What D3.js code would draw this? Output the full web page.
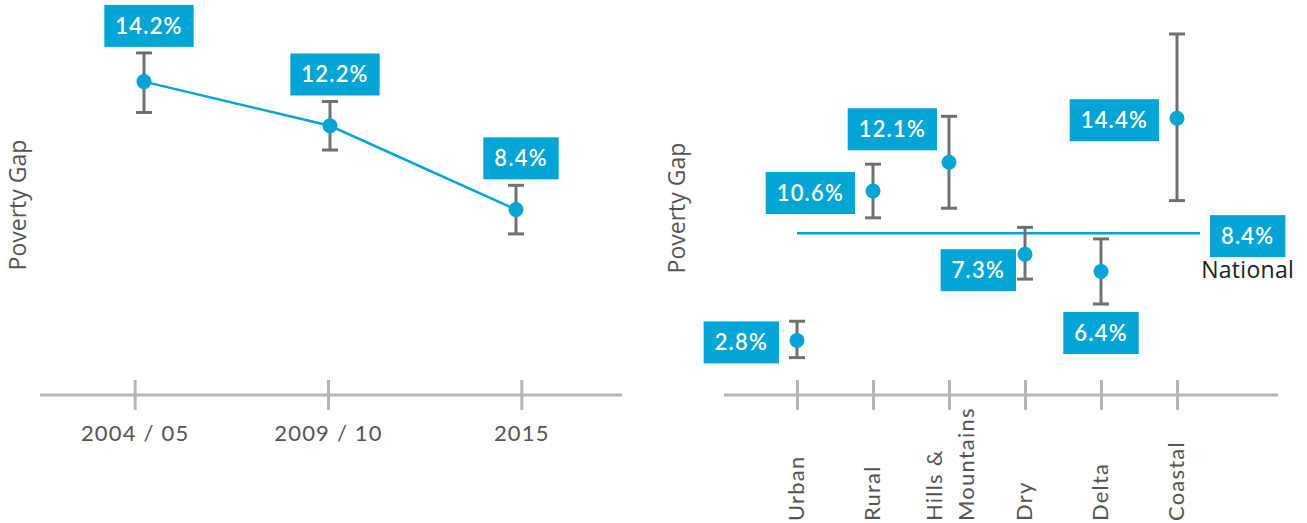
<!DOCTYPE html>
<html>
<head>
<meta charset="utf-8">
<script src="https://cdn.jsdelivr.net/npm/d3@7"></script>
<style>
  html, body { margin: 0; padding: 0; background: #fff; }
  svg { display: block; }
</style>
</head>
<body>
<svg id="chart" width="1307" height="523"></svg>
<script>
// ---------- data ----------
const years = ["2004 / 05", "2009 / 10", "2015"];
const yearValues = [14.2, 12.2, 8.4];
const yearLow = [12.8, 11.1, 7.3];
const yearHigh = [15.5, 13.3, 9.5];

const regions = ["Urban", "Rural", "Hills & Mountains", "Dry", "Delta", "Coastal"];
const regionValues = [2.8, 10.6, 12.1, 7.3, 6.4, 14.4];
const regionLow = [1.9, 9.2, 9.7, 6.0, 4.7, 10.1];
const regionHigh = [3.8, 12.0, 14.5, 8.7, 8.1, 18.8];
const regionLabelPlacement = ["left", "left", "aboveLeft", "belowLeft", "below", "left"];

const nationalValue = 8.4;
const nationalLabel = "National";
const yAxisTitle = "Poverty Gap";

// ---------- style ----------
const BLUE = "#00a5d5";
const GREY = "#707070";
const AXIS = "#b5b5b5";
const TEXT = "#555";
const LABEL_FONT = "Lato, 'Open Sans', sans-serif";
const fmt = v => v.toFixed(1) + "%";

const svg = d3.select("#chart");

function labelBox(g, text, cx, cy) {
  const grp = g.append("g");
  const rect = grp.append("rect").attr("fill", BLUE);
  const t = grp.append("text")
    .attr("x", cx).attr("y", cy)
    .attr("dy", "0.36em")
    .attr("text-anchor", "middle")
    .attr("fill", "#fff")
    .style("font-family", LABEL_FONT)
    .style("font-size", "22px")
    .style("font-weight", 600)
    .style("letter-spacing", "1.2px")
    .text(text);
  const w = t.node().getComputedTextLength() + 22;
  const h = 42;
  rect.attr("x", cx - w / 2).attr("y", cy - h / 2).attr("width", w).attr("height", h);
  return w;
}

function errorBar(g, x, y1, y2) {
  g.append("line").attr("x1", x).attr("x2", x).attr("y1", y1).attr("y2", y2)
    .attr("stroke", GREY).attr("stroke-width", 3);
  [y1, y2].forEach(y => g.append("line")
    .attr("x1", x - 8).attr("x2", x + 8).attr("y1", y).attr("y2", y)
    .attr("stroke", GREY).attr("stroke-width", 3));
}

// ---------- left chart ----------
const left = svg.append("g");
const xL = d3.scalePoint().domain(years).range([38, 618]).padding(0.5);
const xLDot = d3.scalePoint().domain(years).range([144, 516]);
const yL = d3.scaleLinear().domain([0, 16]).range([395, 395 - 16 * 22.07]);

left.append("line").attr("x1", 40).attr("x2", 622).attr("y1", 395).attr("y2", 395)
  .attr("stroke", AXIS).attr("stroke-width", 3);

const axL = left.append("g").attr("transform", "translate(0,395)")
  .call(d3.axisBottom(xL).tickSize(15).tickPadding(15));
axL.select(".domain").remove();
axL.selectAll(".tick line").attr("y1", -15).attr("y2", 15).attr("stroke", AXIS).attr("stroke-width", 3);
axL.selectAll(".tick text").attr("fill", TEXT)
  .style("font-family", LABEL_FONT).style("font-size", "22px").style("font-weight", 400)
  .style("letter-spacing", "1.2px");

left.append("text")
  .attr("transform", "translate(26,205) rotate(-90)")
  .attr("text-anchor", "middle").attr("fill", TEXT)
  .style("font-family", "'Open Sans', sans-serif").style("font-size", "23px")
  .text(yAxisTitle);

const lineGen = d3.line().x((d, i) => xLDot(years[i])).y(d => yL(d));
left.append("path").datum(yearValues).attr("d", lineGen)
  .attr("fill", "none").attr("stroke", BLUE).attr("stroke-width", 2.5);

years.forEach((yr, i) => {
  const x = xLDot(yr);
  errorBar(left, x, yL(yearHigh[i]), yL(yearLow[i]));
  left.append("circle").attr("cx", x).attr("cy", yL(yearValues[i])).attr("r", 7.5).attr("fill", BLUE);
  labelBox(left, fmt(yearValues[i]), x + 5, yL(yearHigh[i]) - 27);
});

// ---------- right chart ----------
const right = svg.append("g");
const xR = d3.scalePoint().domain(regions).range([797, 1177]);
const yR = d3.scaleLinear().domain([0, 19]).range([394, 394 - 19 * 19.15]);

right.append("line").attr("x1", 724).attr("x2", 1278).attr("y1", 395).attr("y2", 395)
  .attr("stroke", AXIS).attr("stroke-width", 3);

const axR = right.append("g").attr("transform", "translate(0,395)")
  .call(d3.axisBottom(xR).tickSize(15));
axR.select(".domain").remove();
axR.selectAll(".tick line").attr("y1", -15).attr("y2", 15).attr("stroke", AXIS).attr("stroke-width", 3);
axR.selectAll(".tick text").each(function(d) {
  const t = d3.select(this);
  t.text(null)
    .attr("transform", "rotate(-90)")
    .attr("x", -126).attr("y", 0)
    .attr("text-anchor", "start")
    .attr("fill", TEXT)
    .style("font-family", LABEL_FONT).style("font-size", "22px").style("font-weight", 400)
    .style("letter-spacing", "1.2px");
  const parts = d.split(" & ");
  if (parts.length > 1) {
    t.attr("dy", null);
    t.append("tspan").attr("x", -126).attr("dy", "-0.33em").text(parts[0] + " &");
    t.append("tspan").attr("x", -126).attr("dy", "1.45em").text(parts[1]);
  } else {
    t.attr("dy", "0.3em").text(d);
  }
});

right.append("text")
  .attr("transform", "translate(685,208) rotate(-90)")
  .attr("text-anchor", "middle").attr("fill", TEXT)
  .style("font-family", "'Open Sans', sans-serif").style("font-size", "23px")
  .text(yAxisTitle);

// national line
const nx1 = xR(regions[0]);
const nx2 = xR(regions[regions.length - 1]) + 23;
right.append("line").attr("x1", nx1).attr("x2", nx2)
  .attr("y1", yR(nationalValue)).attr("y2", yR(nationalValue))
  .attr("stroke", BLUE).attr("stroke-width", 2.5);

regions.forEach((r, i) => {
  const x = xR(r);
  const y = yR(regionValues[i]);
  errorBar(right, x, yR(regionHigh[i]), yR(regionLow[i]));
  right.append("circle").attr("cx", x).attr("cy", y).attr("r", 7.5).attr("fill", BLUE);
  const tmp = right.append("g");
  const w = labelBox(tmp, fmt(regionValues[i]), 0, 0);
  const p = regionLabelPlacement[i];
  let cx, cy;
  if (p === "left") { cx = x - 18 - w / 2; cy = y + 2; }
  else if (p === "aboveLeft") { cx = x - 12 - w / 2; cy = y - 33; }
  else if (p === "belowLeft") { cx = x - 9 - w / 2; cy = y + 16; }
  else { cx = x; cy = yR(regionLow[i]) + 29; }
  tmp.attr("transform", `translate(${cx},${cy})`);
});

// national label
const nl = right.append("g");
const nw = labelBox(nl, fmt(nationalValue), 0, 0);
nl.attr("transform", `translate(${nx2 + 10 + nw / 2},${yR(nationalValue) + 3})`);
right.append("text")
  .attr("x", nx2 + 10 + nw / 2).attr("y", yR(nationalValue) + 45)
  .attr("text-anchor", "middle").attr("fill", "#222")
  .style("font-family", "'Open Sans', sans-serif").style("font-size", "23px")
  .style("letter-spacing", "0.3px")
  .text(nationalLabel);
</script>
</body>
</html>
